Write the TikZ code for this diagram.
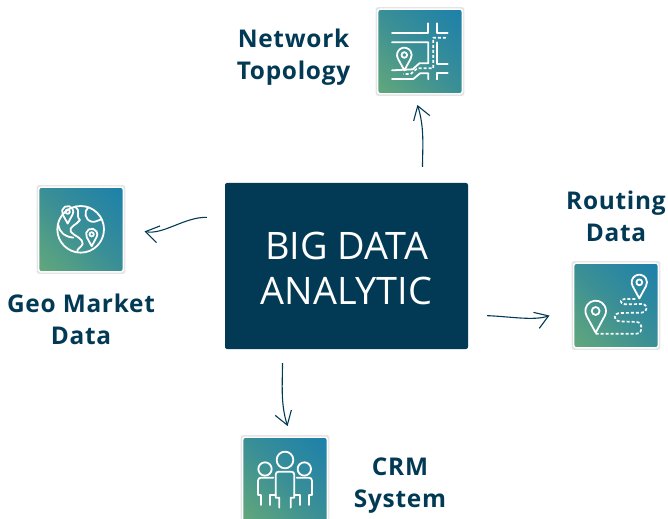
\documentclass[tikz,border=0pt]{standalone}
\usepackage{fontspec}
\setmainfont{Open Sans}
\usetikzlibrary{arrows.meta,shadows}
\definecolor{hubcol}{HTML}{023A55}
\definecolor{tileblue}{HTML}{1C80AB}
\definecolor{tilegreen}{HTML}{63A87A}
\definecolor{tilemid}{HTML}{3A8F96}
\pgfdeclareverticalshading{tileshade}{100bp}{color(0bp)=(tilegreen); color(14.6bp)=(tilegreen); color(50bp)=(tilemid); color(85.4bp)=(tileblue); color(100bp)=(tileblue)}
\tikzset{
  hubbox/.style={fill=hubcol,rounded corners=2bp,minimum width=243bp,minimum height=166bp},
  hubtext/.style={text=white,align=center,font=\fontsize{38}{45}\selectfont},
  tile/.style={draw=white,line width=1.4bp,rounded corners=2.5bp,minimum size=84.6bp,shade,shading=tileshade,shading angle=-45,drop shadow={shadow xshift=0bp,shadow yshift=0bp,shadow scale=1.05,opacity=.1,fill=black}},
  tilelabel/.style={text=hubcol,align=center,font=\fontsize{24.5}{32}\selectfont\bfseries\addfontfeature{LetterSpace=3}},
  flow/.style={->,draw=hubcol,line width=1.1bp},
  iconline/.style={draw=white,line width=1.8bp,line join=round,line cap=round},
  icondots/.style={iconline,line cap=butt,dash pattern=on 3bp off 2bp,line width=1.7bp},
  iconzoom/.style={shift={(#1)},x=.3333bp,y=-.3333bp},
}
\newcommand{\mappin}[3]{%
  \draw[iconline] (#1,#2) ++(150:#3) arc[start angle=150,end angle=390,radius=#3] -- ({#1},{#2+2.1*#3}) -- cycle;
  \draw[iconline] (#1,#2) circle[radius=.38*#3];}
\begin{document}
\begin{tikzpicture}[>={Straight Barb[length=13bp,width=17bp,line width=1.1bp]},x=1bp,y=-1bp]
  \useasboundingbox (0,0) rectangle (668,519);
  \clip (0,0) rectangle (668,519);
  % Node: hub
  \node[hubbox] (hub) at (346.5,266) {};
  \node[hubtext] (hubcaption) at (346.5,268.5) {BIG DATA\\ANALYTIC};
  % Node: tiles
  \node[tile] (topology) at (420,51.5) {};
  \node[tile] (geo) at (81,229.5) {};
  \node[tile] (routing) at (616,305.5) {};
  \node[tile] (crm) at (285,479.5) {};
  % Node: labels
  \node[tilelabel] (topologytext) at (293.5,57) {Network\\Topology};
  \node[tilelabel] (geotext) at (81,319.5) {Geo Market\\Data};
  \node[tilelabel] (routingtext) at (616,216.5) {Routing\\Data};
  \node[tilelabel] (crmtext) at (400,486) {CRM\\System};
  % Edge: hub -> topology
  \draw [flow,shorten <=16bp,shorten >=11bp] ([xshift=76bp]hub.north) to[out=90,in=-72] ([xshift=-6bp]topology.south);
  % Edge: hub -> geo
  \draw [flow,shorten <=18bp,shorten >=21bp] ([yshift=48bp]hub.west) to[out=178,in=-12] ([yshift=2.5bp]geo.east);
  % Edge: hub -> routing
  \draw [flow,shorten <=19bp,shorten >=25bp] ([yshift=-49bp]hub.east) to[out=-2,in=200] ([yshift=-1.5bp]routing.west);
  % Edge: hub -> crm
  \draw [flow,shorten <=14bp,shorten >=11bp] ([xshift=-64bp]hub.south) to[out=-90,in=108] ([xshift=6bp]crm.north);
  % Icon: topology
  \begin{scope}[iconzoom={360,0}]
    \draw[iconline] (96,98) -- (205,98) -- (205,70);
    \draw[iconline] (230,70) -- (230,98) -- (263,98);
    \draw[iconline] (96,127) -- (205,127) -- (205,190) -- (178,190) -- (158,208) -- (96,211);
    \draw[iconline] (96,237) -- (160,237) -- (180,220) -- (205,220) -- (205,238);
    \draw[iconline] (230,127) -- (230,192) -- (263,192);
    \draw[iconline] (230,238) -- (230,220) -- (263,220);
    \draw[icondots] (258,113) -- (220,113) -- (220,205) -- (172,205) -- (152,222) -- (130,222);
    \mappin{133}{165}{22}
  \end{scope}
  % Icon: geo
  \begin{scope}[iconzoom={20,170}]
    \draw[iconline] (182,178) circle[radius=70];
    \draw[iconline] (165,110) .. controls (185,125) and (165,135) .. (180,150) .. controls (170,165) and (145,170) .. (152,185) .. controls (165,200) and (190,205) .. (188,222) .. controls (182,235) and (170,235) .. (172,246);
    \draw[iconline] (205,112) .. controls (190,125) and (195,150) .. (215,155) .. controls (225,158) and (235,150) .. (245,148);
    \draw[iconline] (115,165) .. controls (120,190) and (135,200) .. (160,203);
    \mappin{143}{125}{17}
    \mappin{215}{193}{17}
  \end{scope}
  % Icon: routing
  \begin{scope}[iconzoom={480,250}]
    \mappin{478}{97}{23}
    \mappin{347}{183}{31}
    \draw[icondots] (347,251) -- (470,251) .. controls (490,251) and (490,217) .. (470,216) -- (420,214) .. controls (398,212) and (400,190) .. (420,189) -- (485,188) .. controls (505,185) and (505,163) .. (485,162) -- (435,163) .. controls (418,160) and (418,147) .. (435,147) -- (472,147);
  \end{scope}
  % Icon: crm
  \begin{scope}[iconzoom={230,355}]
    \draw[iconline] (165,315) circle[radius=25];
    \draw[iconline] (105,342) circle[radius=20];
    \draw[iconline] (223,342) circle[radius=20];
    \draw[iconline] (148,458) -- (148,428) -- (137,428) [rounded corners=3bp] -- (137,350) -- (193,350) [sharp corners] -- (193,428) -- (182,428) -- (182,458);
    \draw[iconline] (93,450) -- (93,420) -- (84,420) [rounded corners=3bp] -- (84,368) -- (130,368);
    \draw[iconline] (120,450) -- (120,420) -- (137,420);
    \draw[iconline] (200,368) [rounded corners=3bp] -- (246,368) [sharp corners] -- (246,420) -- (237,420) -- (237,450);
    \draw[iconline] (211,450) -- (211,420) -- (193,420);
  \end{scope}
\end{tikzpicture}
\end{document}
